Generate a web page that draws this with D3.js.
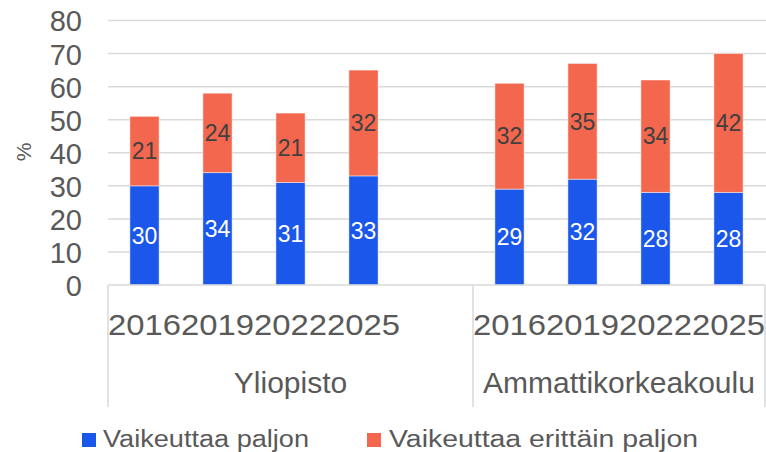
<!DOCTYPE html>
<html>
<head>
<meta charset="utf-8">
<script src="https://cdn.jsdelivr.net/npm/d3@7"></script>
<style>
  html, body { margin: 0; padding: 0; background: #fff; }
  svg { display: block; font-family: "Liberation Sans", Arial, sans-serif; }
</style>
</head>
<body>
<svg id="chart" width="766" height="452"></svg>
<script>
// Institution types and survey years
const groups = ["Yliopisto", "Ammattikorkeakoulu"];
const years = ["2016", "2019", "2022", "2025"];

// Share (%) per series, in order: Yliopisto 2016..2025, Ammattikorkeakoulu 2016..2025
const paljon = [30, 34, 31, 33, 29, 32, 28, 28];
const erittainPaljon = [21, 24, 21, 32, 32, 35, 34, 42];

const seriesNames = ["Vaikeuttaa paljon", "Vaikeuttaa erittäin paljon"];
const seriesColors = ["#1B57EA", "#F2674D"];
const yTicks = [0, 10, 20, 30, 40, 50, 60, 70, 80];

// Category slots: each group's years, with an empty slot between groups
const slots = [];
const rows = [];
groups.forEach((g, gi) => {
  years.forEach((yr, yi) => {
    const key = g + "|" + yr;
    slots.push(key);
    const i = gi * years.length + yi;
    rows.push({ key, group: g, year: yr, a: paljon[i], b: erittainPaljon[i] });
  });
  if (gi < groups.length - 1) slots.push("gap|" + gi);
});

const svg = d3.select("#chart");
const plotLeft = 108, plotRight = 765, plotTop = 20.5, plotBottom = 285;

const x = d3.scaleBand().domain(slots).range([plotLeft, plotRight])
  .paddingInner(0.6).paddingOuter(0.3);
const y = d3.scaleLinear().domain([0, 80]).range([plotBottom, plotTop]);

const gridColor = "#d9d9d9";
const textColor = "#595959";

// Horizontal gridlines
svg.append("g").selectAll("line").data(yTicks.filter(d => d > 0)).join("line")
  .attr("x1", plotLeft).attr("x2", 766)
  .attr("y1", d => y(d)).attr("y2", d => y(d))
  .attr("stroke", gridColor).attr("stroke-width", 1.5);

// Value axis labels
const yAxis = d3.axisLeft(y).tickValues(yTicks).tickSize(0).tickPadding(0);
const yg = svg.append("g").attr("transform", `translate(${plotLeft - 26},0)`).call(yAxis);
yg.select(".domain").remove();
yg.selectAll("text").attr("fill", textColor).attr("font-size", 29)
  .attr("font-family", "Liberation Sans, Arial, sans-serif").attr("dy", "0.36em");

// Axis title
svg.append("text")
  .attr("transform", `translate(31,152) rotate(-90)`)
  .attr("text-anchor", "middle")
  .attr("fill", textColor).attr("font-size", 21)
  .text("%");

// Stacked bars
const stacked = d3.stack().keys(["a", "b"])(rows);
const barG = svg.append("g");
stacked.forEach((layer, li) => {
  barG.append("g").selectAll("rect").data(layer).join("rect")
    .attr("x", d => x(d.data.key))
    .attr("width", x.bandwidth())
    .attr("y", d => y(d[1]))
    .attr("height", d => y(d[0]) - y(d[1]))
    .attr("fill", seriesColors[li])
    .attr("stroke", "rgba(255,255,255,0.45)").attr("stroke-width", 1);
});

// Data labels
stacked.forEach((layer, li) => {
  svg.append("g").selectAll("text").data(layer).join("text")
    .attr("x", d => x(d.data.key) + x.bandwidth() / 2)
    .attr("y", d => (y(d[0]) + y(d[1])) / 2)
    .attr("dy", "0.36em")
    .attr("text-anchor", "middle")
    .attr("font-size", 23)
    .attr("fill", li === 0 ? "#ffffff" : "#404040")
    .text(d => d[1] - d[0]);
});

// Category axis: baseline and group separators
const axisG = svg.append("g");
axisG.append("line").attr("x1", plotLeft).attr("x2", plotRight)
  .attr("y1", plotBottom).attr("y2", plotBottom)
  .attr("stroke", gridColor).attr("stroke-width", 1.5);

const step = x.step();
const slotStart = k => x(k) - (step - x.bandwidth()) / 2;
const bounds = [plotLeft];
groups.forEach((g, gi) => {
  if (gi < groups.length - 1) bounds.push(slotStart("gap|" + gi) + step);
});
bounds.push(plotRight);

axisG.selectAll("line.sep").data(bounds).join("line").attr("class", "sep")
  .attr("x1", d => d).attr("x2", d => d)
  .attr("y1", plotBottom).attr("y2", 407)
  .attr("stroke", gridColor).attr("stroke-width", 1.5);

// Year labels
axisG.selectAll("text.year").data(rows).join("text").attr("class", "year")
  .attr("x", d => x(d.key) + x.bandwidth() / 2)
  .attr("y", 335)
  .attr("text-anchor", "middle")
  .attr("font-size", 30)
  .attr("textLength", 73).attr("lengthAdjust", "spacingAndGlyphs")
  .attr("fill", textColor)
  .text(d => d.year);

// Group labels
axisG.selectAll("text.group").data(groups).join("text").attr("class", "group")
  .attr("x", (d, i) => (bounds[i] + bounds[i + 1]) / 2)
  .attr("y", 393)
  .attr("text-anchor", "middle")
  .attr("font-size", 30)
  .attr("fill", textColor)
  .text(d => d);

// Legend
const legendItems = [
  { name: seriesNames[0], color: seriesColors[0], sx: 82, tx: 103, w: 206 },
  { name: seriesNames[1], color: seriesColors[1], sx: 367, tx: 389, w: 309 }
];
const lg = svg.append("g");
legendItems.forEach(it => {
  lg.append("rect").attr("x", it.sx).attr("y", 433).attr("width", 14).attr("height", 14)
    .attr("fill", it.color);
  lg.append("text").attr("x", it.tx).attr("y", 447)
    .attr("font-size", 23)
    .attr("textLength", it.w).attr("lengthAdjust", "spacingAndGlyphs")
    .attr("fill", textColor)
    .text(it.name);
});
</script>
</body>
</html>
